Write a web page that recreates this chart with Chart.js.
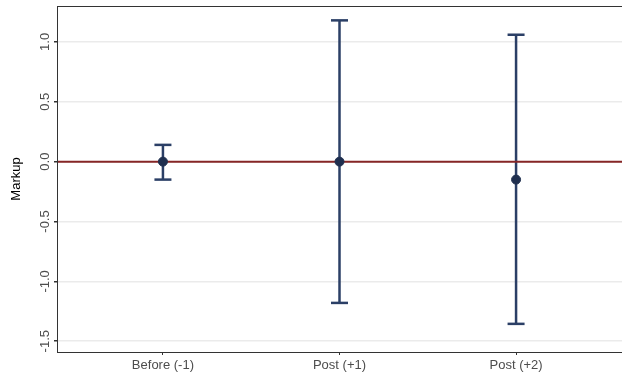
<!DOCTYPE html>
<html>
<head>
<meta charset="utf-8">
<script src="https://cdn.jsdelivr.net/npm/chart.js@4"></script>
<style>
  html, body { margin: 0; padding: 0; background: #fff; }
  #wrap { width: 622px; height: 377px; }
</style>
</head>
<body>
<div id="wrap"><canvas id="markup"></canvas></div>
<script>
// values
var periods = ["Before (-1)", "Post (+1)", "Post (+2)"];
var estimates = [0.0, 0.0, -0.15];
var lower = [-0.15, -1.18, -1.355];
var upper = [0.14, 1.18, 1.06];
var yTicks = [-1.5, -1.0, -0.5, 0.0, 0.5, 1.0];

var navy = '#2b3f66';

// one little line dataset per error bar, caps drawn as 'line' point style
var barSets = periods.map(function(p, i) {
  return {
    type: 'line',
    data: [{x: i, y: lower[i]}, {x: i, y: upper[i]}],
    borderColor: navy,
    borderWidth: 2.5,
    pointStyle: 'line',
    pointRadius: 8.5,
    pointBorderColor: navy,
    pointBorderWidth: 2.5,
    pointHoverRadius: 8.5,
    order: 3
  };
});

var zeroLine = {
  type: 'line',
  data: [{x: -0.6, y: 0}, {x: 2.6, y: 0}],
  borderColor: '#862626',
  borderWidth: 2,
  pointRadius: 0,
  order: 2
};

var points = {
  type: 'scatter',
  data: estimates.map(function(v, i) { return {x: i, y: v}; }),
  backgroundColor: '#1f2f4f',
  borderColor: '#1f2f4f',
  pointRadius: 4.5,
  order: 1
};

function noPad(scale) {
  scale.paddingTop = 0;
  scale.paddingBottom = 0;
  scale.paddingLeft = 0;
  scale.paddingRight = 0;
}

var framePlugin = {
  id: 'frame',
  afterDatasetsDraw: function(chart) {
    var a = chart.chartArea, ctx = chart.ctx;
    ctx.save();
    ctx.strokeStyle = '#333333';
    ctx.lineWidth = 1;
    ctx.strokeRect(a.left + 0.5, a.top + 0.5, a.right - a.left, a.bottom - a.top);
    ctx.restore();
  }
};

var ctx = document.getElementById('markup');
var chart = new Chart(ctx, {
  data: { datasets: barSets.concat([zeroLine, points]) },
  options: {
    responsive: true,
    maintainAspectRatio: false,
    animation: false,
    layout: { autoPadding: false, padding: { top: 6, right: -2, left: 0, bottom: 0 } },
    plugins: {
      legend: { display: false },
      tooltip: { enabled: false }
    },
    scales: {
      x: {
        type: 'linear',
        min: -0.6,
        max: 2.6,
        afterBuildTicks: function(scale) {
          scale.ticks = periods.map(function(p, i) { return {value: i}; });
        },
        afterFit: function(scale) { scale.height = 25; noPad(scale); },
        ticks: {
          callback: function(v) { return periods[v]; },
          color: '#4d4d4d',
          font: { family: 'Liberation Sans', size: 13 },
          padding: 3,
          maxRotation: 0
        },
        grid: {
          drawOnChartArea: false,
          tickLength: 3,
          tickColor: '#333333'
        },
        border: { color: '#333333', width: 1 }
      },
      y: {
        type: 'linear',
        min: -1.59,
        max: 1.30,
        afterBuildTicks: function(scale) {
          scale.ticks = yTicks.map(function(v) { return {value: v}; });
        },
        afterFit: function(scale) { scale.width = 57; noPad(scale); },
        ticks: {
          callback: function(v) { return v.toFixed(1); },
          color: '#4d4d4d',
          font: { family: 'Liberation Sans', size: 13 },
          minRotation: 90,
          maxRotation: 90,
          crossAlign: 'center',
          padding: -3
        },
        grid: {
          color: '#ebebeb',
          lineWidth: 1.5,
          tickLength: 3,
          tickColor: '#333333'
        },
        border: { color: '#333333', width: 1 },
        title: {
          display: true,
          text: 'Markup',
          color: '#000000',
          font: { family: 'Liberation Sans', size: 13 },
          padding: { top: 9, bottom: 0 }
        }
      }
    }
  },
  plugins: [framePlugin]
});
</script>
</body>
</html>
